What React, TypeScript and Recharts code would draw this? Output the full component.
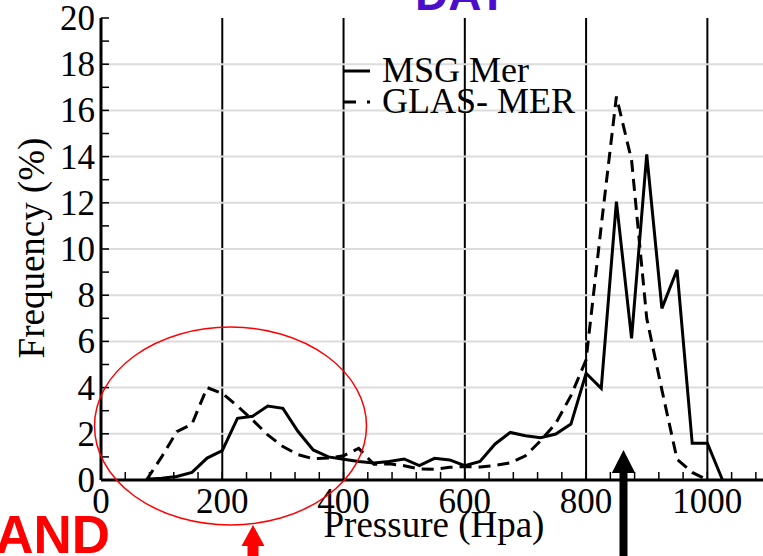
import React from 'react';
import { LineChart, Line, XAxis, YAxis, ReferenceLine, Legend } from 'recharts';

const pressure = [75, 100, 125, 150, 175, 200, 225, 250, 275, 300, 325, 350, 375, 400, 425, 450, 475, 500, 525, 550, 575, 600, 625, 650, 675, 700, 725, 750, 775, 800, 825, 850, 875, 900, 925, 950, 975, 1000, 1025];
const msgMer = [0.03, 0.08, 0.15, 0.33, 0.95, 1.27, 2.67, 2.76, 3.2, 3.1, 2.1, 1.3, 1.0, 0.9, 0.8, 0.74, 0.8, 0.91, 0.62, 0.94, 0.87, 0.62, 0.8, 1.56, 2.06, 1.92, 1.83, 1.99, 2.42, 4.62, 3.97, 12.05, 6.13, 14.1, 7.43, 9.1, 1.59, 1.59, 0];
const glasMer = [0, 1.0, 2.09, 2.42, 4.0, 3.75, 3.2, 2.6, 1.95, 1.45, 1.1, 0.92, 0.95, 1.05, 1.37, 0.68, 0.7, 0.62, 0.48, 0.47, 0.55, 0.58, 0.56, 0.63, 0.74, 1.05, 1.7, 2.45, 3.65, 5.2, 11.0, 16.6, 13.85, 7.0, 3.9, 0.9, 0.33, 0, null];

const xTicks = [0, 40, 80, 120, 160, 200, 240, 280, 320, 360, 400, 440, 480, 520, 560, 600, 640, 680, 720, 760, 800, 840, 880, 920, 960, 1000, 1040, 1080];
const yTicks = [0, 1, 2, 3, 4, 5, 6, 7, 8, 9, 10, 11, 12, 13, 14, 15, 16, 17, 18, 19, 20];
const gridX = [200, 400, 600, 800, 1000];
const gridY = [2, 4, 6, 8, 10, 12, 14, 16, 18];

const data = pressure.map((p, i) => ({ p, msg: msgMer[i], glas: glasMer[i] }));

const serifStyle = { fontFamily: "'Liberation Serif', 'Times New Roman', Times, serif" };
const sansStyle = { fontFamily: "'Liberation Sans', Arial, Helvetica, sans-serif", fontWeight: 700 };

function XTick(props: any) {
  const { x, y, payload } = props;
  if (payload.value % 200 !== 0) return <g />;
  return (
    <text x={x} y={y} dy="0.71em" textAnchor="middle" style={serifStyle} fontSize={35} fill="#000">{payload.value}</text>
  );
}

function YTick(props: any) {
  const { x, y, payload } = props;
  if (payload.value % 2 !== 0) return <g />;
  return (
    <text x={x} y={y} dy="0.34em" textAnchor="end" style={serifStyle} fontSize={35} fill="#000">{payload.value}</text>
  );
}

function LegendBox() {
  return (
    <svg width={260} height={75}>
      <line x1={13} y1={21} x2={40} y2={21} stroke="#000" strokeWidth={3} />
      <text x={52} y={32} style={serifStyle} fontSize={36} fill="#000">MSG Mer</text>
      <line x1={13} y1={52} x2={40} y2={52} stroke="#000" strokeWidth={3} strokeDasharray="13 11" />
      <text x={52} y={63} style={serifStyle} fontSize={36} fill="#000">GLAS- MER</text>
    </svg>
  );
}

export default function App() {
  return (
    <div style={{ position: 'absolute', left: 0, top: 0, width: 763, height: 556, overflow: 'hidden', background: '#fff' }}>
      <LineChart width={770} height={556} data={data} margin={{ top: 18, right: 2, bottom: 0, left: 0 }}>
        <XAxis
          dataKey="p"
          type="number"
          domain={[0, 1100]}
          allowDataOverflow
          ticks={xTicks}
          interval={0}
          height={76}
          tick={<XTick />}
          tickSize={-8}
          tickMargin={16}
          axisLine={{ stroke: '#000', strokeWidth: 3 }}
          tickLine={{ stroke: '#000', strokeWidth: 1.5 }}
          label={{
            content: () => (
              <text x={434} y={537} textAnchor="middle" style={serifStyle} fontSize={37} fill="#000">Pressure (Hpa)</text>
            ),
          }}
        />
        <XAxis
          xAxisId="top"
          orientation="top"
          type="number"
          domain={[0, 1100]}
          allowDataOverflow
          ticks={xTicks}
          interval={0}
          height={0}
          tick={false}
          tickSize={-8}
          axisLine={{ stroke: '#000', strokeWidth: 3 }}
          tickLine={{ stroke: '#000', strokeWidth: 1.5 }}
        />
        <YAxis
          type="number"
          domain={[0, 20]}
          ticks={yTicks}
          interval={0}
          width={101}
          tick={<YTick />}
          tickSize={-8}
          tickMargin={14}
          axisLine={{ stroke: '#000', strokeWidth: 3 }}
          tickLine={{ stroke: '#000', strokeWidth: 1.5 }}
          label={{
            content: () => (
              <text x={44} y={248} transform="rotate(-90 44 248)" textAnchor="middle" style={serifStyle} fontSize={37} fill="#000">Frequency (%)</text>
            ),
          }}
        />
        <YAxis
          yAxisId="right"
          orientation="right"
          type="number"
          domain={[0, 20]}
          ticks={yTicks}
          interval={0}
          width={0}
          tick={false}
          tickSize={-8}
          axisLine={false}
          tickLine={{ stroke: '#000', strokeWidth: 1.5 }}
        />
        {gridX.map((x) => (
          <ReferenceLine key={'gx' + x} x={x} stroke="#000" strokeWidth={2} />
        ))}
        {gridY.map((y) => (
          <ReferenceLine key={'gy' + y} y={y} stroke="#dcdcdc" strokeWidth={2} />
        ))}
        <Legend
          layout="horizontal"
          verticalAlign="middle"
          align="center"
          content={() => <LegendBox />}
          wrapperStyle={{ position: 'absolute', left: 330, top: 50, width: 260, height: 75 }}
        />
        <Line type="linear" dataKey="msg" name="MSG Mer" stroke="#000" strokeWidth={3} dot={false} isAnimationActive={false} />
        <Line type="linear" dataKey="glas" name="GLAS- MER" stroke="#000" strokeWidth={3} strokeDasharray="12 7" dot={false} isAnimationActive={false} />
      </LineChart>
      <svg width={763} height={556} style={{ position: 'absolute', left: 0, top: 0, pointerEvents: 'none' }}>
        <text x={415} y={10} style={sansStyle} fontSize={46} fill="#4a0fcc">DAY</text>
        <text x={110} y={553} textAnchor="end" style={sansStyle} fontSize={53} fill="#ff0000">AND</text>
        <ellipse cx={230.5} cy={426} rx={136} ry={99} fill="none" stroke="#ff0000" strokeWidth={1.5} />
        <polygon points="253,525 241.5,546 247.5,546 247.5,556 258.5,556 258.5,546 264.5,546" fill="#ff0000" />
        <polygon points="623.5,450 611.8,473 619.5,473 619.5,556 627.5,556 627.5,473 635.2,473" fill="#000" />
      </svg>
    </div>
  );
}
